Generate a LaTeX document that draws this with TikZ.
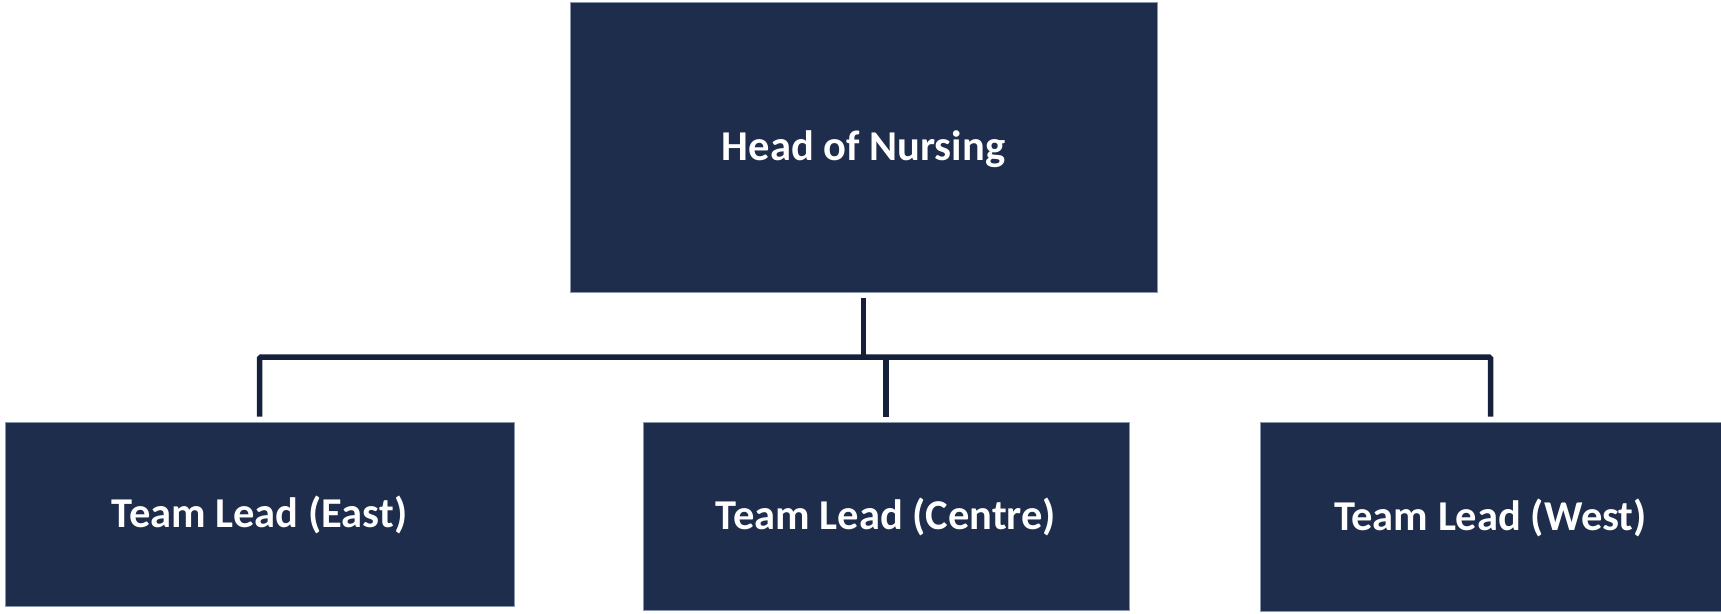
\documentclass[tikz,border=0pt]{standalone}
\usepackage{fontspec}
\setmainfont{Carlito}
\definecolor{boxfill}{HTML}{1E2D4B}
\definecolor{boxedge}{HTML}{8A96AA}
\definecolor{linecol}{HTML}{15213A}
\begin{document}
\begin{tikzpicture}[x=1pt,y=-1pt,
  orgbox/.style={draw=boxedge,line width=0.8pt,fill=boxfill,inner sep=0pt,
    text=white,text height=26pt,text depth=0pt,
    font=\fontsize{42.5}{50}\selectfont\bfseries},
  conn/.style={draw=linecol,line width=5.5pt}]
\useasboundingbox (0,0) rectangle (1721,613);
\node[orgbox,minimum width=587pt,minimum height=290pt] (head) at (863.5,147) {Head of Nursing};
\node[orgbox,minimum width=509pt,minimum height=184pt] (east) at (259.5,514) {Team Lead (East)};
\node[orgbox,minimum width=486pt,minimum height=188pt] (centre) at (886,516) {Team Lead (Centre)};
\node[orgbox,minimum width=461pt,minimum height=189pt,text height=28pt] (west) at (1490.5,516.5) {Team Lead (West)};
\coordinate (bus) at (886,357);
\draw[conn,rounded corners=1.5pt] ([yshift=5pt]east.north) |- (bus) -| ([yshift=5pt]west.north);
\draw[conn] ([yshift=-6pt]head.south) -- (head.south |- bus);
\draw[conn] (bus) -- ([yshift=5pt]centre.north);
\end{tikzpicture}
\end{document}
